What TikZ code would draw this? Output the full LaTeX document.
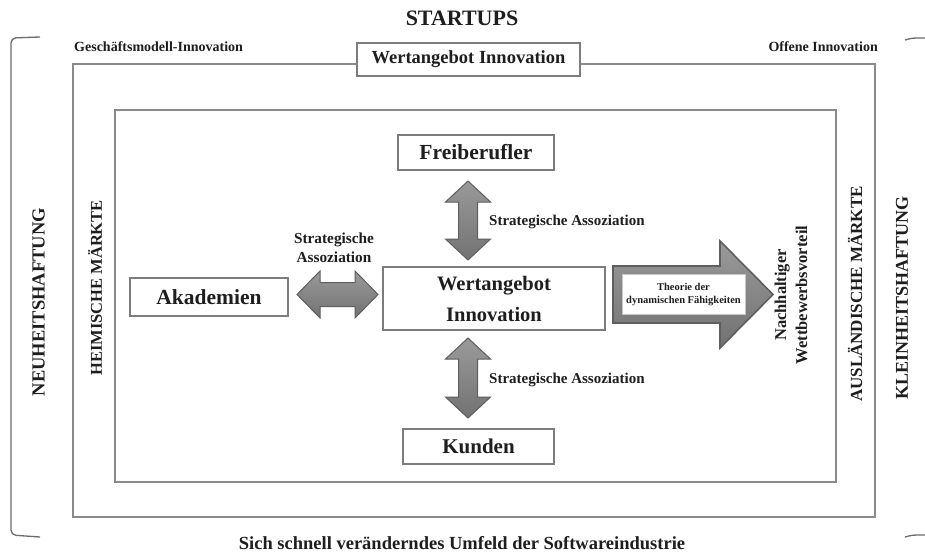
\documentclass[tikz,border=0pt]{standalone}
\usepackage{fontspec}
\setmainfont{Liberation Serif}
\definecolor{ink}{HTML}{1E1E1E}
\definecolor{frame}{HTML}{8A8A8A}
\definecolor{boxline}{HTML}{7C7C7C}
\definecolor{arrowedge}{HTML}{5E5E5E}
\definecolor{arrowtop}{HTML}{9A9A9A}
\definecolor{arrowbot}{HTML}{727272}
\definecolor{bracket}{HTML}{6A6A6A}
\newcommand\fsz[2]{\fontsize{#1}{#2}\selectfont}
\tikzset{
  lbl/.style={font=\bfseries, text=ink, inner sep=0pt},
  boxnode/.style={draw=boxline, line width=1.4pt, fill=white, inner sep=0pt, text=ink, font=\bfseries},
  blockarrow/.style={draw=arrowedge, line width=1pt, top color=arrowtop, bottom color=arrowbot},
  framebox/.style={draw=frame, line width=2pt},
  bracketline/.style={draw=bracket, line width=1.3pt, rounded corners=5pt}
}
\newcommand\vdarrow[3]{% x, top tip, bottom tip
  \path[blockarrow] (#1,#2) -- ({#1+22.5},{#2+21}) -- ({#1+9.5},{#2+21}) -- ({#1+9.5},{#3-21})
    -- ({#1+22.5},{#3-21}) -- (#1,#3) -- ({#1-22.5},{#3-21}) -- ({#1-9.5},{#3-21})
    -- ({#1-9.5},{#2+21}) -- ({#1-22.5},{#2+21}) -- cycle;}
\begin{document}
\begin{tikzpicture}[x=1pt,y=-1pt]
\useasboundingbox[fill=white] (0,0) rectangle (925,552);

% brackets
\draw[bracketline] (40,37) -- (11,38) -- (11,535) -- (40,537);
\draw[bracket, line width=1.3pt] (905,40) .. controls (912,38) .. (925,38);
\draw[bracket, line width=1.3pt] (905,537) .. controls (912,535) .. (925,535);

% frames
\draw[framebox] (73,64) rectangle (875,517);
\draw[framebox] (115,110) rectangle (836,482);

% titles
\node[lbl, font=\bfseries\fsz{22}{22}] (startups) at (462,18) {STARTUPS};
\node[lbl, font=\bfseries\fsz{14}{14}, anchor=west] (gmi) at (74,47) {Geschäftsmodell-Innovation};
\node[lbl, font=\bfseries\fsz{14}{14}, anchor=east] (oi) at (878,47) {Offene Innovation};
\node[boxnode, minimum width=223pt, minimum height=33pt, font=\bfseries\fsz{18.5}{18.5}] (wi) at (468.5,59.5) {Wertangebot Innovation};
\node[lbl, font=\bfseries\fsz{18.5}{18.5}] (bottom) at (462,543) {Sich schnell veränderndes Umfeld der Softwareindustrie};

% side labels
\node[lbl, rotate=90, font=\bfseries\fsz{18.5}{18.5}] (neu) at (38.5,302) {NEUHEITSHAFTUNG};
\node[lbl, rotate=90, font=\bfseries\fsz{16.5}{16.5}] (heim) at (95,288) {HEIMISCHE MÄRKTE};
\node[lbl, rotate=90, font=\bfseries\fsz{17}{17}] (ausl) at (855,294) {AUSLÄNDISCHE MÄRKTE};
\node[lbl, rotate=90, font=\bfseries\fsz{18}{18}] (klein) at (902,298) {KLEINHEITSHAFTUNG};

% boxes
\node[boxnode, minimum width=156pt, minimum height=35pt, font=\bfseries\fsz{21.5}{21.5}] (frei) at (476,152.5) {Freiberufler};
\node[boxnode, minimum width=158pt, minimum height=38pt, font=\bfseries\fsz{21.5}{21.5}] (aka) at (209,297) {Akademien};
\node[boxnode, minimum width=222pt, minimum height=63pt, align=center, font=\bfseries\fsz{20.5}{31}] (center) at (494,298.5) {Wertangebot\\Innovation};
\node[boxnode, minimum width=151pt, minimum height=35pt, font=\bfseries\fsz{21}{21}] (kunden) at (478.5,446.5) {Kunden};

% block arrows
\vdarrow{468}{181}{260}
\vdarrow{468}{338}{418}
\path[blockarrow] (297,294.5) -- (320,271) -- (320,282.5) -- (355,282.5) -- (355,271) -- (378,294.5)
  -- (355,318) -- (355,306.5) -- (320,306.5) -- (320,318) -- cycle;
\path[draw=arrowedge, line width=1.6pt, top color=arrowtop, bottom color=arrowbot]
  (613,266) -- (720,266) -- (720,241) -- (773,294.5) -- (720,348) -- (720,323) -- (613,323) -- cycle;
\node[draw=gray!45, line width=0.6pt, fill=white, minimum width=123pt, minimum height=40pt, inner sep=0pt,
  align=center, text=ink, font=\bfseries\fsz{10.5}{12.3}] (theo) at (683.5,294.5) {Theorie der\\dynamischen Fähigkeiten};

% association labels
\node[lbl, align=center, font=\bfseries\fsz{15.3}{18.7}] (saleft) at (334,247.5) {Strategische\\Assoziation};
\node[lbl, anchor=west, font=\bfseries\fsz{15}{15}] (satop) at (489,222) {Strategische Assoziation};
\node[lbl, anchor=west, font=\bfseries\fsz{15}{15}] (sabot) at (489,380) {Strategische Assoziation};

% outcome
\node[lbl, rotate=90, align=center, font=\bfseries\fsz{16.5}{21}] (nach) at (791,295) {Nachhaltiger\\Wettbewerbsvorteil};
\end{tikzpicture}
\end{document}
